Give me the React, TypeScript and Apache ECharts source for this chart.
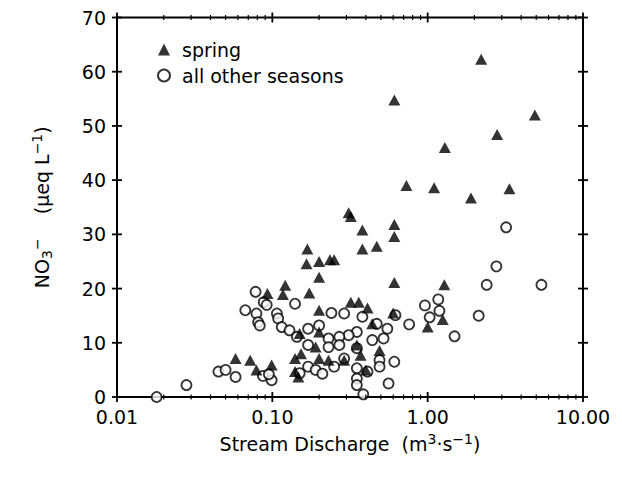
import React, { useEffect, useRef } from "react";
import * as echarts from "echarts";

const springData: [number, number][] = [
  [2.21, 62.3], [0.61, 54.8], [4.9, 52.0], [2.8, 48.4], [1.29, 46.0],
  [0.73, 39.0], [1.1, 38.6], [3.36, 38.4], [1.9, 36.7], [0.31, 34.0],
  [0.32, 33.3], [0.61, 31.8], [0.38, 30.8], [0.61, 29.6], [0.47, 27.8],
  [0.38, 27.3], [0.168, 27.3], [0.166, 24.6], [0.2, 25.0], [0.235, 25.3],
  [0.25, 25.3], [0.2, 22.1], [0.61, 21.1], [1.28, 20.7], [0.121, 20.6],
  [0.093, 19.1], [0.117, 18.9], [0.173, 19.2], [0.32, 17.5], [0.36, 17.5],
  [0.41, 16.4], [0.2, 16.0], [0.6, 15.5], [1.25, 14.3], [1.0, 12.9],
  [0.44, 13.5], [0.49, 8.6], [0.15, 11.7], [0.2, 12.0], [0.153, 8.0],
  [0.19, 9.2], [0.2, 7.1], [0.23, 6.8], [0.29, 6.8], [0.37, 7.7],
  [0.35, 9.6], [0.4, 5.0], [0.147, 3.7], [0.14, 4.7], [0.14, 7.1],
  [0.058, 7.1], [0.072, 6.8], [0.079, 5.0], [0.099, 5.9],
];

const otherData: [number, number][] = [
  [0.018, 0.0], [0.028, 2.2], [0.045, 4.7], [0.05, 5.0], [0.058, 3.7],
  [0.087, 3.9], [0.099, 3.1], [0.095, 4.2], [0.067, 16.0], [0.078, 19.4],
  [0.079, 15.4], [0.081, 13.8], [0.083, 13.2], [0.088, 17.5], [0.092, 17.0],
  [0.107, 15.4], [0.109, 14.5], [0.115, 12.9], [0.129, 12.3], [0.144, 11.1],
  [0.14, 17.2], [0.17, 12.6], [0.2, 13.2], [0.24, 15.5], [0.29, 15.4],
  [0.38, 14.8], [0.47, 13.5], [0.62, 15.1], [0.55, 12.6], [0.52, 10.8],
  [0.44, 10.5], [0.35, 12.0], [0.31, 11.4], [0.27, 11.1], [0.23, 10.8],
  [0.23, 9.2], [0.27, 9.6], [0.17, 9.6], [0.35, 9.0], [0.29, 7.1],
  [0.35, 5.3], [0.41, 4.7], [0.49, 6.8], [0.49, 5.6], [0.61, 6.5],
  [0.56, 2.5], [0.35, 3.4], [0.35, 2.2], [0.385, 0.5], [0.17, 5.6],
  [0.19, 5.0], [0.25, 5.6], [0.15, 4.4], [0.21, 4.3], [0.76, 13.4],
  [0.96, 16.9], [1.17, 18.0], [1.19, 15.9], [1.03, 14.7], [1.49, 11.2],
  [2.13, 15.0], [2.4, 20.7], [5.4, 20.7], [2.77, 24.1], [3.2, 31.3],
];

const yTickValues = [0, 10, 20, 30, 40, 50, 60, 70];
const xMajorTicks = [0.01, 0.1, 1, 10];
const xMinorTicks = [
  0.02, 0.03, 0.04, 0.05, 0.06, 0.07, 0.08, 0.09,
  0.2, 0.3, 0.4, 0.5, 0.6, 0.7, 0.8, 0.9,
  2, 3, 4, 5, 6, 7, 8, 9,
];

const FONT = "DejaVu Sans";

const richStyles = {
  n: { fontFamily: FONT, fontSize: 19, color: "#000", lineHeight: 26, verticalAlign: "middle" },
  sub: { fontFamily: FONT, fontSize: 14, color: "#000", lineHeight: 26, verticalAlign: "bottom", padding: [0, 0, 1, 0] },
  sup: { fontFamily: FONT, fontSize: 14, color: "#000", lineHeight: 26, verticalAlign: "top", padding: [1, 0, 0, 0] },
};

export default function App() {
  const ref = useRef<HTMLDivElement>(null);
  useEffect(() => {
    if (!ref.current) return;
    const chart = echarts.init(ref.current, undefined, { renderer: "svg" });
    const xTickData = [
      ...xMajorTicks.map((v) => [v, 1]),
      ...xMinorTicks.map((v) => [v, 0]),
    ];
    const yTickData = yTickValues.map((v) => [1, v]);
    chart.setOption({
      animation: false,
      backgroundColor: "#fff",
      textStyle: { fontFamily: FONT, color: "#000" },
      grid: {
        left: 109, right: 31, top: 8, bottom: 73,
        show: true, borderColor: "#000", borderWidth: 2, backgroundColor: "transparent",
      },
      legend: {
        orient: "vertical",
        left: 144,
        top: 27,
        itemWidth: 12,
        itemHeight: 12,
        itemGap: 7,
        textStyle: { fontFamily: FONT, fontSize: 19, color: "#000", padding: [0, 0, 0, 7] },
        data: [
          { name: "spring", icon: "triangle" },
          { name: "all other seasons", icon: "circle" },
        ],
      },
      xAxis: {
        type: "log",
        logBase: 10,
        min: 0.01,
        max: 10,
        name: "{n|Stream Discharge  (m}{sup|3}{n|·s}{sup|−1}{n|)}",
        nameLocation: "middle",
        nameGap: 30,
        nameTextStyle: { fontFamily: FONT, fontSize: 19, color: "#000", rich: richStyles },
        axisLine: { show: false },
        axisTick: { show: false },
        splitLine: { show: false },
        minorTick: { show: false },
        axisLabel: {
          fontFamily: FONT, fontSize: 19, color: "#000", margin: 10, lineHeight: 19,
          formatter: (v: number) => Number(v).toFixed(2),
        },
      },
      yAxis: {
        type: "value",
        min: 0,
        max: 70,
        interval: 10,
        name: "{n|NO}{sub|3}{sup|−}{n|    (μeq L}{sup|−1}{n|)}",
        nameLocation: "middle",
        nameGap: 62,
        nameTextStyle: { fontFamily: FONT, fontSize: 19, color: "#000", rich: richStyles },
        axisLine: { show: false },
        axisTick: { show: false },
        splitLine: { show: false },
        axisLabel: { fontFamily: FONT, fontSize: 19, color: "#000", margin: 11, lineHeight: 19 },
      },
      series: [
        {
          name: "all other seasons",
          type: "scatter",
          data: otherData,
          symbol: "circle",
          symbolSize: 10,
          itemStyle: { color: "#fff", borderColor: "#000", borderWidth: 1.8 },
          z: 3,
        },
        {
          name: "spring",
          type: "scatter",
          data: springData,
          symbol: "triangle",
          symbolSize: [12, 11],
          itemStyle: { color: "#000" },
          z: 4,
        },
        {
          type: "custom",
          clip: false,
          silent: true,
          z: 5,
          data: xTickData,
          renderItem: (params: any, api: any) => {
            const v = api.value(0);
            const major = api.value(1) === 1;
            const cs = params.coordSys;
            const px = api.coord([v, 1])[0];
            const len = major ? 5 : 2.5;
            const bottom = cs.y + cs.height;
            const style = { stroke: "#000", lineWidth: major ? 1.8 : 1.2 };
            return {
              type: "group",
              children: [
                { type: "line", shape: { x1: px, y1: bottom - len, x2: px, y2: bottom + len }, style },
                { type: "line", shape: { x1: px, y1: cs.y - len, x2: px, y2: cs.y + len }, style },
              ],
            };
          },
        },
        {
          type: "custom",
          clip: false,
          silent: true,
          z: 5,
          data: yTickData,
          renderItem: (params: any, api: any) => {
            const v = api.value(1);
            const cs = params.coordSys;
            const py = api.coord([1, v])[1];
            const len = 5;
            const right = cs.x + cs.width;
            const style = { stroke: "#000", lineWidth: 1.8 };
            return {
              type: "group",
              children: [
                { type: "line", shape: { x1: cs.x - len, y1: py, x2: cs.x + len, y2: py }, style },
                { type: "line", shape: { x1: right - len, y1: py, x2: right + len, y2: py }, style },
              ],
            };
          },
        },
      ],
    });
    return () => chart.dispose();
  }, []);
  return <div ref={ref} style={{ width: 606, height: 462 }} />;
}
